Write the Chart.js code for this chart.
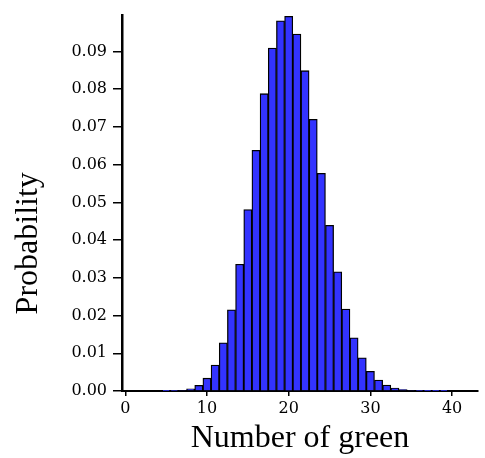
<!DOCTYPE html>
<html>
<head>
<meta charset="utf-8">
<script src="https://cdn.jsdelivr.net/npm/chart.js@4/dist/chart.umd.min.js"></script>
<style>
html,body{margin:0;padding:0;background:#fff;}
#wrap{position:relative;width:485px;height:458px;}
</style>
</head>
<body>
<div id="wrap"><canvas id="c"></canvas></div>
<script>
// Number of green (categories)
const counts = [5,6,7,8,9,10,11,12,13,14,15,16,17,18,19,20,21,22,23,24,25,26,27,28,29,30,31,32,33,34,35,36,37,38,39];
// Probability
const probs = [0.00001,0.00006,0.0002,0.0006,0.0015,0.0034,0.0069,0.0128,0.0215,0.0336,0.0481,0.0638,0.0788,0.0909,0.0981,0.0993,0.0946,0.0849,0.0720,0.0577,0.0439,0.0316,0.0217,0.0141,0.0088,0.0052,0.0029,0.0016,0.0008,0.0004,0.0002,0.0001,0.00004,0.00002,0.00001];
const xTicks = [0,10,20,30,40];
const yTicks = [0,0.01,0.02,0.03,0.04,0.05,0.06,0.07,0.08,0.09];

const points = counts.map((k,i)=>({x:k,y:probs[i]}));
const tickFont = {family:'"DejaVu Serif"', size:16};
const titleFont = {family:'"Liberation Serif"', size:32};

new Chart(document.getElementById('c'), {
  type:'bar',
  data:{datasets:[{
    data:points,
    backgroundColor:'#3333ff',
    borderColor:'#000000',
    borderWidth:1.3,
    barPercentage:1,
    categoryPercentage:1
  }]},
  options:{
    responsive:true,
    maintainAspectRatio:false,
    animation:false,
    layout:{padding:{left:0,top:12,right:7,bottom:0}},
    plugins:{legend:{display:false},tooltip:{enabled:false}},
    scales:{
      x:{
        type:'linear',
        offset:false,
        min:-0.4,
        max:43.17,
        afterFit:(s)=>{s.height=67;},
        afterBuildTicks:(s)=>{s.ticks=xTicks.map(v=>({value:v}));},
        ticks:{font:tickFont,color:'#000',padding:3,maxRotation:0,callback:(v)=>String(v)},
        grid:{offset:false,drawOnChartArea:false,drawTicks:true,tickLength:5,color:'#000',lineWidth:1.5},
        border:{display:true,color:'#000',width:2},
        title:{display:true,text:'Number of green',font:titleFont,color:'#000',padding:{top:0,bottom:0}}
      },
      y:{
        type:'linear',
        min:0,
        max:0.0995,
        afterFit:(s)=>{s.width=122;},
        afterBuildTicks:(s)=>{s.ticks=yTicks.map(v=>({value:v}));},
        ticks:{font:tickFont,color:'#000',padding:6,callback:(v)=>Number(v).toFixed(2)},
        grid:{drawOnChartArea:false,drawTicks:true,tickLength:9,color:'#000',lineWidth:1.5},
        border:{display:true,color:'#000',width:2.5},
        title:{display:true,text:'Probability\u00a0\u00a0\u00a0\u00a0\u00a0\u00a0\u00a0\u00a0\u00a0\u00a0',font:titleFont,color:'#000',padding:{top:9,bottom:0}}
      }
    }
  }
});
</script>
</body>
</html>
